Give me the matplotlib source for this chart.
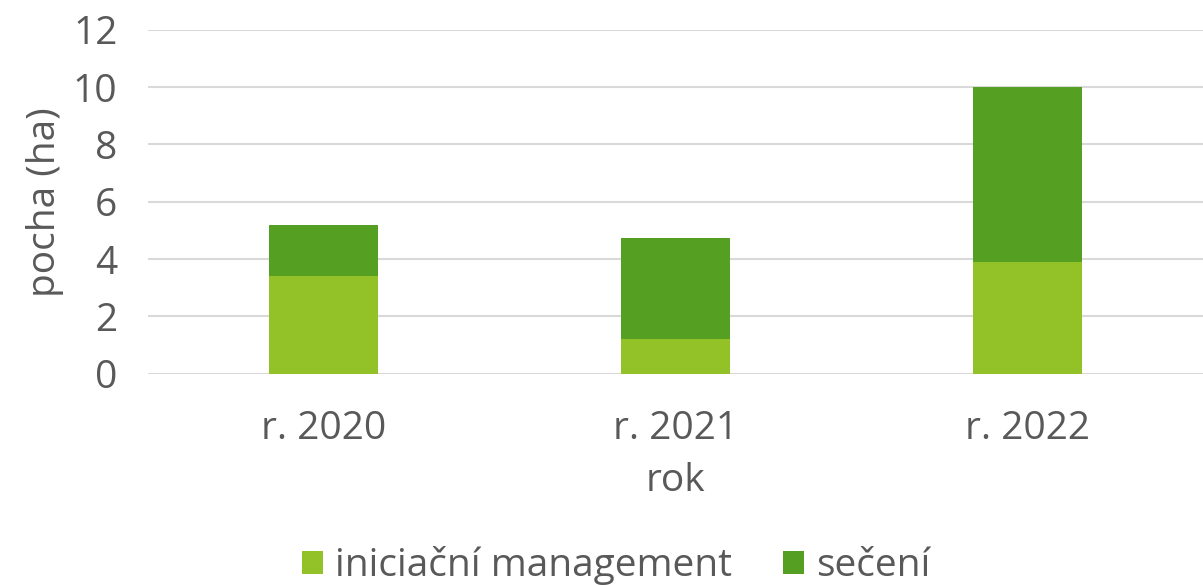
import matplotlib.pyplot as plt
import numpy as np

# data
roky = ['r. 2020', 'r. 2021', 'r. 2022']
iniciacni = [3.4, 1.2, 3.9]
seceni = [1.8, 3.55, 6.1]

barva_ini = '#92C128'
barva_sec = '#55A022'
seda = '#595959'

plt.rcParams['font.family'] = ['Open Sans', 'DejaVu Sans']
fs = 28

fig = plt.figure(figsize=(12.03, 5.85), dpi=100)
ax = fig.add_axes([0.123, 0.361, 0.877, 0.588])

x = np.arange(len(roky))
ax.bar(x, iniciacni, width=0.31, color=barva_ini, label='iniciační management', zorder=3)
ax.bar(x, seceni, width=0.31, bottom=iniciacni, color=barva_sec, label='sečení', zorder=3)

ax.set_xlim(-0.5, 2.5)
ax.set_ylim(0, 12)
ax.set_yticks(range(0, 13, 2))
ax.set_xticks(x)
ax.set_xticklabels(roky)
ax.grid(axis='y', color='#D9D9D9', linewidth=1.5, zorder=0)
for s in ax.spines.values():
    s.set_visible(False)
ax.tick_params(length=0, labelsize=fs, colors=seda)
ax.tick_params(axis='x', pad=26)
ax.tick_params(axis='y', pad=22)

ax.set_xlabel('rok', fontsize=fs, color=seda, labelpad=10)
ax.set_ylabel('pocha (ha)', fontsize=fs, color=seda, labelpad=6)

fig.legend(loc='lower center', bbox_to_anchor=(0.512, -0.06), ncol=2, frameon=False,
           fontsize=fs, labelcolor=seda, handlelength=0.55, handleheight=0.55,
           handletextpad=0.3, columnspacing=1.3)

fig.savefig('out.png', dpi=100)
